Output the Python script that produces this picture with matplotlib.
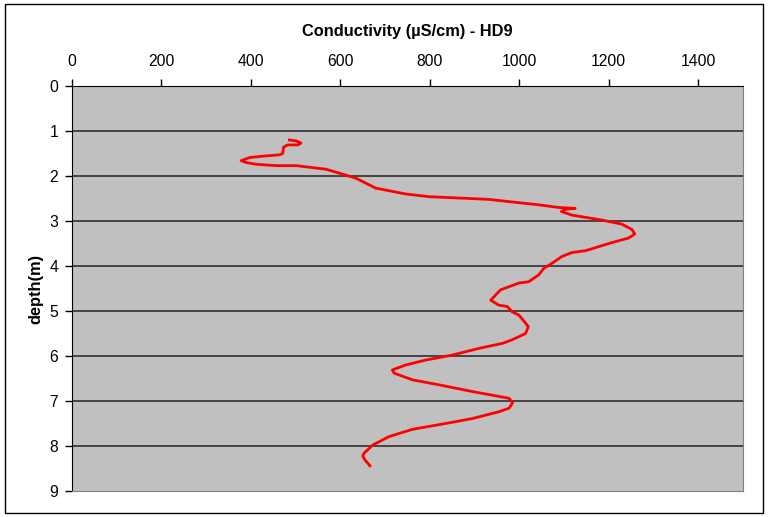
import matplotlib
matplotlib.use("Agg")
import matplotlib.pyplot as plt
from matplotlib.patches import Rectangle

plt.rcParams['font.family'] = ['Liberation Sans', 'DejaVu Sans']

# conductivity profile (uS/cm vs depth in m)
conductivity = [486, 501, 512, 505, 482, 473, 471, 464, 427, 397, 378, 389, 412, 456, 501,
                568, 605, 635, 679, 746, 798, 820, 932, 977, 1043, 1088, 1125, 1103, 1094,
                1118, 1185, 1229, 1252, 1258, 1244, 1207, 1148, 1118, 1095, 1073, 1055,
                1043, 1021, 999, 958, 936, 954, 973, 984, 999, 1014, 1020, 1014, 984, 962,
                910, 850, 791, 746, 716, 720, 761, 820, 895, 977, 985, 977, 954, 895, 835,
                761, 709, 672, 653, 650, 655, 666]
depth = [1.20, 1.22, 1.27, 1.31, 1.31, 1.36, 1.50, 1.53, 1.56, 1.59, 1.66, 1.70, 1.74, 1.77, 1.77,
         1.85, 1.96, 2.05, 2.27, 2.40, 2.46, 2.47, 2.52, 2.57, 2.64, 2.70, 2.72, 2.74, 2.79,
         2.87, 2.98, 3.07, 3.19, 3.29, 3.38, 3.48, 3.66, 3.70, 3.79, 3.94, 4.05,
         4.20, 4.35, 4.38, 4.53, 4.76, 4.87, 4.90, 5.02, 5.09, 5.27, 5.35, 5.50, 5.64, 5.72,
         5.83, 5.98, 6.09, 6.20, 6.31, 6.38, 6.53, 6.64, 6.79, 6.94, 7.04, 7.16, 7.24, 7.39, 7.50,
         7.63, 7.79, 7.98, 8.16, 8.22, 8.31, 8.44]

x_ticks = [0, 200, 400, 600, 800, 1000, 1200, 1400]
y_ticks = list(range(10))

fig = plt.figure(figsize=(7.68, 5.17), dpi=100)
ax = fig.add_axes([0.09375, 0.0503, 0.8737, 0.7834])

ax.set_facecolor('#c0c0c0')
ax.plot(conductivity, depth, color='red', lw=2.0, zorder=3)

ax.set_xlim(0, 1500)
ax.set_ylim(9, 0)
ax.set_xticks(x_ticks)
ax.set_yticks(y_ticks)
ax.xaxis.tick_top()
ax.xaxis.set_label_position('top')
ax.tick_params(axis='both', labelsize=11.3, length=5, width=1, color='black', direction='out')
ax.tick_params(axis='x', pad=7)
ax.tick_params(axis='y', pad=5)

for d in y_ticks[1:-1]:
    ax.axhline(d, color='#222222', lw=1.1, zorder=1)

ax.spines['left'].set_color('black')
ax.spines['top'].set_color('black')
ax.spines['right'].set_color('#808080')
ax.spines['bottom'].set_color('#808080')

ax.set_xlabel('Conductivity (µS/cm) - HD9', fontsize=11.8, fontweight='bold', labelpad=13)
ax.set_ylabel('depth(m)', fontsize=11.8, fontweight='bold', labelpad=4)

# outer frame of the chart
fig.patches.append(Rectangle((0.007, 0.008), 0.987, 0.984, transform=fig.transFigure,
                             fill=False, edgecolor='black', lw=1))

fig.savefig('out.png', dpi=100)
